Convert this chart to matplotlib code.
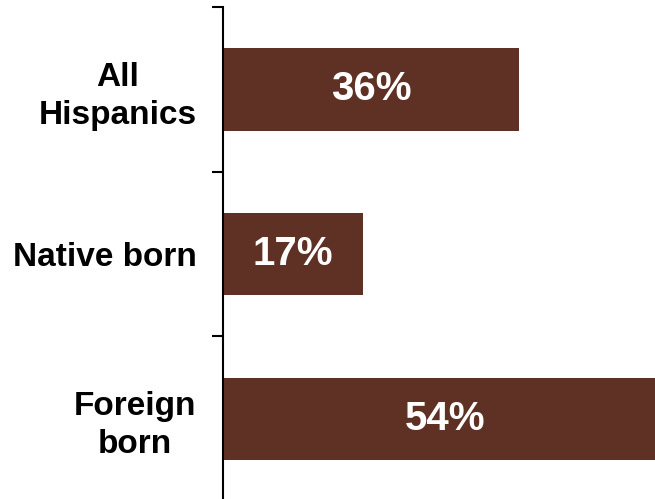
import matplotlib.pyplot as plt
import numpy as np

plt.rcParams['font.family'] = ['Liberation Sans', 'DejaVu Sans']

categories = ['All\nHispanics', 'Native born', 'Foreign\nborn']
values = [36, 17, 54]
bar_color = '#5F3125'

fig = plt.figure(figsize=(6.55, 4.99), dpi=100)
ax = fig.add_axes([223 / 655, -2 / 499, 1 - 223 / 655, 494 / 499])

y = np.arange(len(categories))
bars = ax.barh(y, values, height=0.5, color=bar_color)

# percentage labels inside each bar
for b, v in zip(bars, values):
    ax.text(b.get_width() / 2, b.get_y() + b.get_height() / 2, f'{v}%',
            ha='center', va='center', color='white', fontsize=29, fontweight='bold')

ax.set_xlim(0, 52.5)
ax.set_ylim(2.5, -0.5)

# category names at bar centres, tick marks between categories
ax.set_yticks(y)
ax.set_yticklabels(categories, fontsize=24, fontweight='bold',
                   multialignment='center', linespacing=1.3)
ax.tick_params(axis='y', which='major', length=0, pad=19)
ax.set_yticks(np.arange(-0.5, len(categories)), minor=True)
ax.tick_params(axis='y', which='minor', length=8, width=1.5, color='black')

ax.set_xticks([])
for side in ['top', 'right', 'bottom']:
    ax.spines[side].set_visible(False)
ax.spines['left'].set_linewidth(1.5)

fig.savefig('out.png', dpi=100)
